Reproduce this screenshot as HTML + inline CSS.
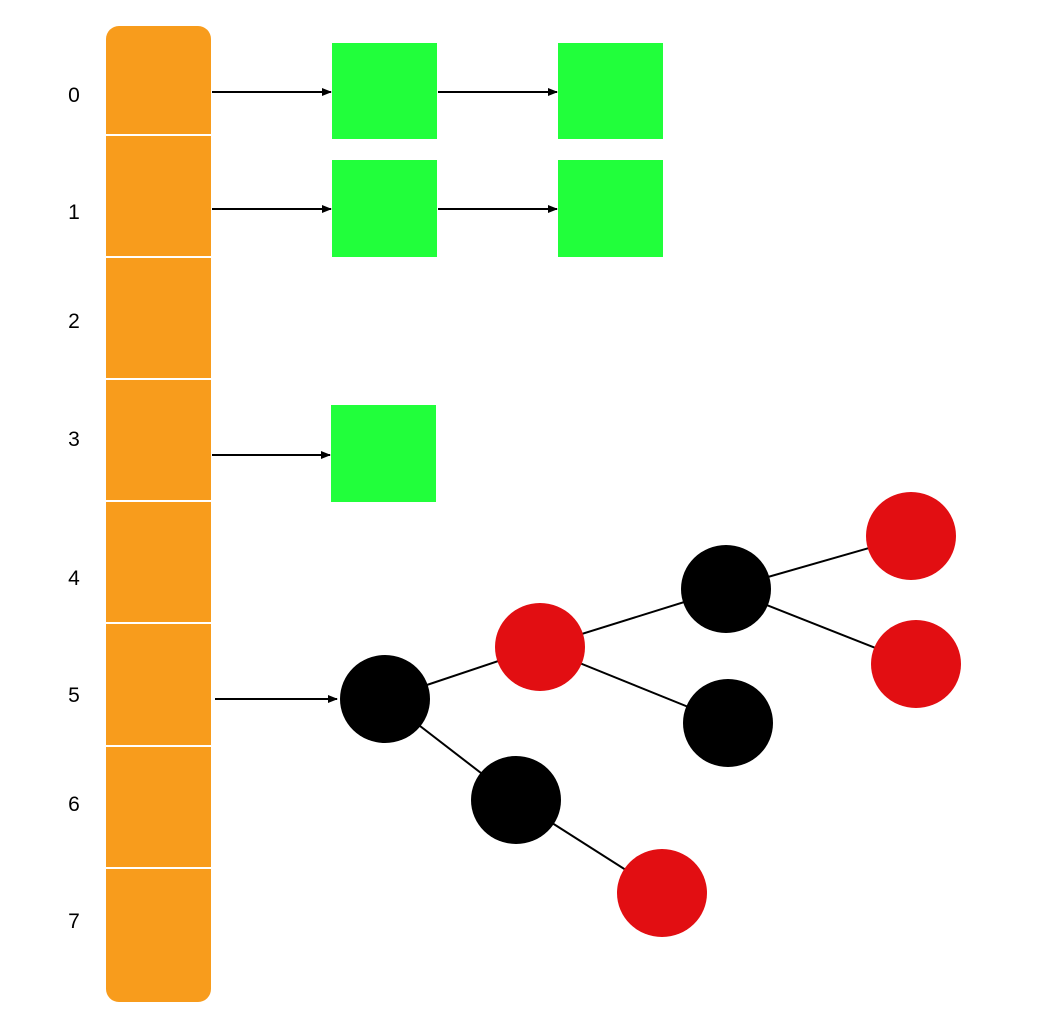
<!DOCTYPE html>
<html><head><meta charset="utf-8"><style>
html,body{margin:0;padding:0;background:#fff;}
</style></head><body>
<svg width="1046" height="1034" xmlns="http://www.w3.org/2000/svg" style="display:block">
<defs><marker id="a" markerWidth="10" markerHeight="8" refX="9" refY="4" orient="auto" markerUnits="userSpaceOnUse"><path d="M0,0 L10,4 L0,8 Z" fill="#000"/></marker></defs>
<rect x="106" y="26" width="105" height="976" rx="13" fill="#F89C1C"/>
<g stroke="#fff" stroke-width="2">
<line x1="106" y1="135" x2="211" y2="135"/>
<line x1="106" y1="257" x2="211" y2="257"/>
<line x1="106" y1="379" x2="211" y2="379"/>
<line x1="106" y1="501" x2="211" y2="501"/>
<line x1="106" y1="623" x2="211" y2="623"/>
<line x1="106" y1="746" x2="211" y2="746"/>
<line x1="106" y1="868" x2="211" y2="868"/>
</g>
<g font-family="Liberation Sans, sans-serif" font-size="21" fill="#000" text-anchor="middle">
<text x="74" y="102">0</text>
<text x="74" y="219">1</text>
<text x="74" y="328">2</text>
<text x="74" y="446">3</text>
<text x="74" y="585">4</text>
<text x="74" y="702">5</text>
<text x="74" y="811">6</text>
<text x="74" y="928">7</text>
</g>
<g fill="#21FF3B">
<rect x="332" y="43" width="105" height="96"/>
<rect x="558" y="43" width="105" height="96"/>
<rect x="332" y="160" width="105" height="97"/>
<rect x="558" y="160" width="105" height="97"/>
<rect x="331" y="405" width="105" height="97"/>
</g>
<g stroke="#000" stroke-width="2" marker-end="url(#a)">
<line x1="212" y1="92" x2="331" y2="92"/>
<line x1="438" y1="92" x2="557" y2="92"/>
<line x1="212" y1="209" x2="331" y2="209"/>
<line x1="438" y1="209" x2="557" y2="209"/>
<line x1="212" y1="455" x2="330" y2="455"/>
<line x1="215" y1="699" x2="337" y2="699"/>
</g>
<g stroke="#000" stroke-width="2">
<line x1="385" y1="699" x2="540" y2="647"/>
<line x1="540" y1="647" x2="726" y2="589"/>
<line x1="726" y1="589" x2="911" y2="536"/>
<line x1="726" y1="589" x2="916" y2="664"/>
<line x1="540" y1="647" x2="728" y2="723"/>
<line x1="385" y1="699" x2="516" y2="800"/>
<line x1="516" y1="800" x2="662" y2="893"/>
</g>
<g>
<ellipse cx="385" cy="699" rx="45" ry="44" fill="#000"/>
<ellipse cx="540" cy="647" rx="45" ry="44" fill="#E20E12"/>
<ellipse cx="726" cy="589" rx="45" ry="44" fill="#000"/>
<ellipse cx="911" cy="536" rx="45" ry="44" fill="#E20E12"/>
<ellipse cx="916" cy="664" rx="45" ry="44" fill="#E20E12"/>
<ellipse cx="728" cy="723" rx="45" ry="44" fill="#000"/>
<ellipse cx="516" cy="800" rx="45" ry="44" fill="#000"/>
<ellipse cx="662" cy="893" rx="45" ry="44" fill="#E20E12"/>
</g>
</svg>
</body></html>
